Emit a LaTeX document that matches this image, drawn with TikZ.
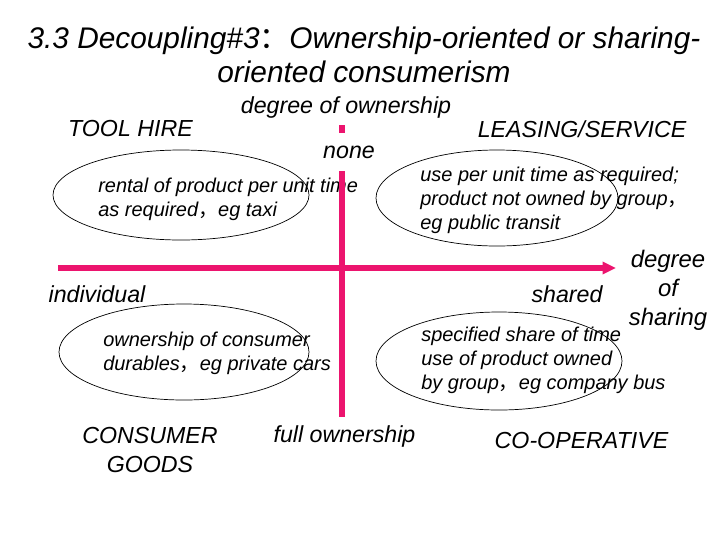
\documentclass[tikz,border=0pt]{standalone}
\usepackage{fontspec}
\setmainfont{Liberation Sans}
\newfontfamily\cjk{Noto Sans CJK SC}
\usepackage{tikz}
\usetikzlibrary{arrows.meta}
\definecolor{axispink}{RGB}{236,20,110}

\begin{document}
\begin{tikzpicture}[x=0.025cm,y=-0.025cm]
    \pgfmathsetmacro{\axiswidth}{4.6}
    \pgfmathsetmacro{\ovalwidth}{0.5}
    \providecommand{\titlefontsize}{\fontsize{21.2pt}{24.5pt}\selectfont}
    \providecommand{\labelfontsize}{\fontsize{16.5pt}{20pt}\selectfont}
    \providecommand{\textfontsize}{\fontsize{14.2pt}{17pt}\selectfont}
    \tikzset{
        corner/.style={font=\labelfontsize\itshape,inner sep=0},
        oval/.style={line width=\ovalwidth pt},
        ovaltext/.style={font=\textfontsize\itshape,align=left,anchor=west,inner sep=0},
        axisline/.style={axispink,line width=\axiswidth pt}
    }
    \useasboundingbox (0,0) rectangle (720,540);
    \node[font=\titlefontsize\itshape,align=center,inner sep=0] (title) at (364,55)
    {3.3 Decoupling\#3{\cjk ：}Ownership-oriented or sharing-\\oriented consumerism};
    % the four ovals
    \draw[oval] (181,195) ellipse [x radius=128,y radius=45];
    \draw[oval] (497,198) ellipse [x radius=121,y radius=48];
    \draw[oval] (184,352) ellipse [x radius=125,y radius=48];
    \draw[oval] (499,361) ellipse [x radius=123,y radius=49];
    \node[ovaltext] (rental) at (98,199.5) {rental of product per unit time\\as required{\cjk ，}eg taxi};
    \node[ovaltext] (leasing) at (420,200) {use per unit time as required;\\product not owned by group{\cjk ，}\\eg public transit};
    \node[ovaltext] (durables) at (103,353) {ownership of consumer\\durables{\cjk ，}eg private cars};
    \node[ovaltext] (cooperative) at (421,360.5) {specified share of time\\use of product owned\\by group{\cjk ，}eg company bus};
    % axes
    \coordinate (marktop) at (342,125);
    \coordinate (markbottom) at (342,133);
    \coordinate (ownershiptop) at (342,171);
    \coordinate (ownershipbottom) at (342,417);
    \coordinate (sharingleft) at (58,268);
    \coordinate (sharingright) at (616,268);
    \draw[axisline] (marktop) -- (markbottom);
    \draw[axisline] (ownershiptop) -- (ownershipbottom);
    \draw[axisline,-{Triangle[length=9.5pt,width=8.5pt]}] (sharingleft) -- (sharingright);
    % axis and corner labels
    \node[corner] (ownership) at (346,107) {degree of ownership};
    \node[corner] (none) at (349,152) {none};
    \node[corner] (full) at (344.5,436) {full ownership};
    \node[corner] (individual) at (97,294) {individual};
    \node[corner] (shared) at (567,294) {shared};
    \node[corner,align=center,font=\fontsize{17pt}{20.5pt}\selectfont\itshape] (sharing) at (668,290) {degree\\of\\sharing};
    \node[corner] (toolhire) at (130.5,129) {TOOL HIRE};
    \node[corner] (service) at (582,129) {LEASING/SERVICE};
    \node[corner,align=center,font=\fontsize{16.5pt}{21pt}\selectfont\itshape] (goods) at (150,450) {CONSUMER\\GOODS};
    \node[corner] (coop) at (581.5,441) {CO-OPERATIVE};
\end{tikzpicture}
\end{document}
